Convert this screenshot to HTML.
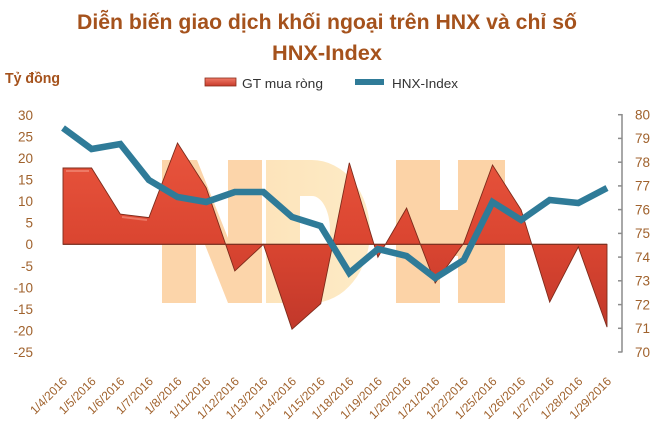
<!DOCTYPE html>
<html>
<head>
<meta charset="utf-8">
<style>
  html,body{margin:0;padding:0;background:#fff;}
  svg{display:block;}
  text{font-family:"Liberation Sans","DejaVu Sans",sans-serif;}
</style>
</head>
<body>
<svg width="660" height="432" viewBox="0 0 660 432" xmlns="http://www.w3.org/2000/svg">
  <defs>
    <linearGradient id="areaG" gradientUnits="userSpaceOnUse" x1="0" y1="140" x2="0" y2="335">
      <stop offset="0" stop-color="#e9553e"/>
      <stop offset="0.5" stop-color="#db4631"/>
      <stop offset="1" stop-color="#c0372a"/>
    </linearGradient>
    <linearGradient id="legR" x1="0" y1="0" x2="0" y2="1">
      <stop offset="0" stop-color="#f07a68"/>
      <stop offset="1" stop-color="#c73a2a"/>
    </linearGradient>
    <linearGradient id="wmD" x1="0" y1="0" x2="1" y2="0">
      <stop offset="0" stop-color="#fde4bb"/>
      <stop offset="1" stop-color="#fdebc6"/>
    </linearGradient>
  </defs>

  <!-- Title -->
  <text x="77" y="29" font-size="21" font-weight="bold" fill="#a5521c" textLength="500" lengthAdjust="spacingAndGlyphs">Diễn biến giao dịch khối ngoại trên HNX và chỉ số</text>
  <text x="272" y="60" font-size="21" font-weight="bold" fill="#a5521c" textLength="110" lengthAdjust="spacingAndGlyphs">HNX-Index</text>

  <!-- Y axis title -->
  <text x="5" y="83" font-size="15" font-weight="bold" fill="#a5521c" textLength="55" lengthAdjust="spacingAndGlyphs">Tỷ đồng</text>

  <!-- Legend -->
  <rect x="205" y="78" width="31" height="8" fill="url(#legR)" stroke="#8a2e1c" stroke-width="0.8"/>
  <text x="242" y="88" font-size="13" fill="#333" textLength="81" lengthAdjust="spacingAndGlyphs">GT mua ròng</text>
  <rect x="355" y="79" width="29" height="6" fill="#2f7b98"/>
  <text x="392" y="88" font-size="13" fill="#333" textLength="66" lengthAdjust="spacingAndGlyphs">HNX-Index</text>

  <!-- Watermark NDH -->
  <polygon points="162,160 197,160 228,238 228,160 262,160 262,303 228,303 196,222 196,303 162,303" fill="#fcd5aa"/>
  <path d="M266,160 H312 A58,71.5 0 0 1 312,303 H266 Z M300,196 H312 A18,34 0 0 1 312,264 H300 Z" fill="url(#wmD)" fill-rule="evenodd"/>
  <path d="M396,160 H440 V210 H458 V160 H505 V303 H458 V256 H440 V303 H396 Z" fill="#fcd3a7"/>

  <!-- Left axis labels -->
  <g font-size="13.5" fill="#a0622d" text-anchor="end">
    <text x="33" y="120">30</text>
    <text x="33" y="141.5">25</text>
    <text x="33" y="163">20</text>
    <text x="33" y="184.6">15</text>
    <text x="33" y="206.1">10</text>
    <text x="33" y="227.7">5</text>
    <text x="33" y="249.2">0</text>
    <text x="33" y="270.8">-5</text>
    <text x="33" y="292.3">-10</text>
    <text x="33" y="313.9">-15</text>
    <text x="33" y="335.4">-20</text>
    <text x="33" y="357">-25</text>
  </g>

  <!-- Right axis -->
  <g stroke="#8c8c8c" stroke-width="1.5" fill="none">
    <line x1="622" y1="114" x2="622" y2="352.5"/>
    <line x1="618" y1="114.7" x2="622" y2="114.7"/>
    <line x1="618" y1="138.4" x2="622" y2="138.4"/>
    <line x1="618" y1="162.2" x2="622" y2="162.2"/>
    <line x1="618" y1="185.9" x2="622" y2="185.9"/>
    <line x1="618" y1="209.6" x2="622" y2="209.6"/>
    <line x1="618" y1="233.4" x2="622" y2="233.4"/>
    <line x1="618" y1="257.1" x2="622" y2="257.1"/>
    <line x1="618" y1="280.8" x2="622" y2="280.8"/>
    <line x1="618" y1="304.6" x2="622" y2="304.6"/>
    <line x1="618" y1="328.3" x2="622" y2="328.3"/>
    <line x1="618" y1="352" x2="622" y2="352"/>
  </g>
  <g font-size="13.5" fill="#a0622d">
    <text x="635" y="119.5">80</text>
    <text x="635" y="143.2">79</text>
    <text x="635" y="167">78</text>
    <text x="635" y="190.7">77</text>
    <text x="635" y="214.4">76</text>
    <text x="635" y="238.2">75</text>
    <text x="635" y="261.9">74</text>
    <text x="635" y="285.6">73</text>
    <text x="635" y="309.4">72</text>
    <text x="635" y="333.1">71</text>
    <text x="635" y="356.8">70</text>
  </g>

  <!-- Area series -->
  <polygon fill="url(#areaG)" stroke="#7d2b1b" stroke-width="0.9" stroke-linejoin="miter"
    points="63,244.3 63,168 91.6,168 120.3,214.1 148.9,217.6 177.5,143 206.2,187.8 234.8,271 263.4,244.3 292,329.2 320.7,303.8 349.3,162.8 377.9,257.2 406.6,208.1 435.2,283.1 463.8,243 492.5,165 521.1,209.8 549.7,302.1 578.3,246.9 607,327.1 607,244.3"/>
  <polyline points="66,171 89,171" stroke="#f28a77" stroke-width="2" fill="none" opacity="0.7"/>
  <polyline points="122,217 147,220" stroke="#f28a77" stroke-width="2" fill="none" opacity="0.7"/>
  <line x1="63" y1="244.3" x2="607" y2="244.3" stroke="#7a3020" stroke-width="1.2"/>

  <!-- Line series -->
  <polyline fill="none" stroke="#2f7b98" stroke-width="6.5" stroke-linejoin="miter" stroke-linecap="butt"
    points="63,128 91.6,149 120.3,144 148.9,180 177.5,197 206.2,202 234.8,192 263.4,192 292,217 320.7,226 349.3,273 377.9,249 406.6,256 435.2,278 463.8,260 492.5,202 521.1,220 549.7,200 578.3,203 607,188"/>

  <!-- X axis labels -->
  <g font-size="12" fill="#a0622d" text-anchor="end">
    <text transform="translate(68,382) rotate(-45)">1/4/2016</text>
    <text transform="translate(96.6,382) rotate(-45)">1/5/2016</text>
    <text transform="translate(125.3,382) rotate(-45)">1/6/2016</text>
    <text transform="translate(153.9,382) rotate(-45)">1/7/2016</text>
    <text transform="translate(182.5,382) rotate(-45)">1/8/2016</text>
    <text transform="translate(211.2,382) rotate(-45)">1/11/2016</text>
    <text transform="translate(239.8,382) rotate(-45)">1/12/2016</text>
    <text transform="translate(268.4,382) rotate(-45)">1/13/2016</text>
    <text transform="translate(297,382) rotate(-45)">1/14/2016</text>
    <text transform="translate(325.7,382) rotate(-45)">1/15/2016</text>
    <text transform="translate(354.3,382) rotate(-45)">1/18/2016</text>
    <text transform="translate(382.9,382) rotate(-45)">1/19/2016</text>
    <text transform="translate(411.6,382) rotate(-45)">1/20/2016</text>
    <text transform="translate(440.2,382) rotate(-45)">1/21/2016</text>
    <text transform="translate(468.8,382) rotate(-45)">1/22/2016</text>
    <text transform="translate(497.5,382) rotate(-45)">1/25/2016</text>
    <text transform="translate(526.1,382) rotate(-45)">1/26/2016</text>
    <text transform="translate(554.7,382) rotate(-45)">1/27/2016</text>
    <text transform="translate(583.3,382) rotate(-45)">1/28/2016</text>
    <text transform="translate(612,382) rotate(-45)">1/29/2016</text>
  </g>
</svg>
</body>
</html>
